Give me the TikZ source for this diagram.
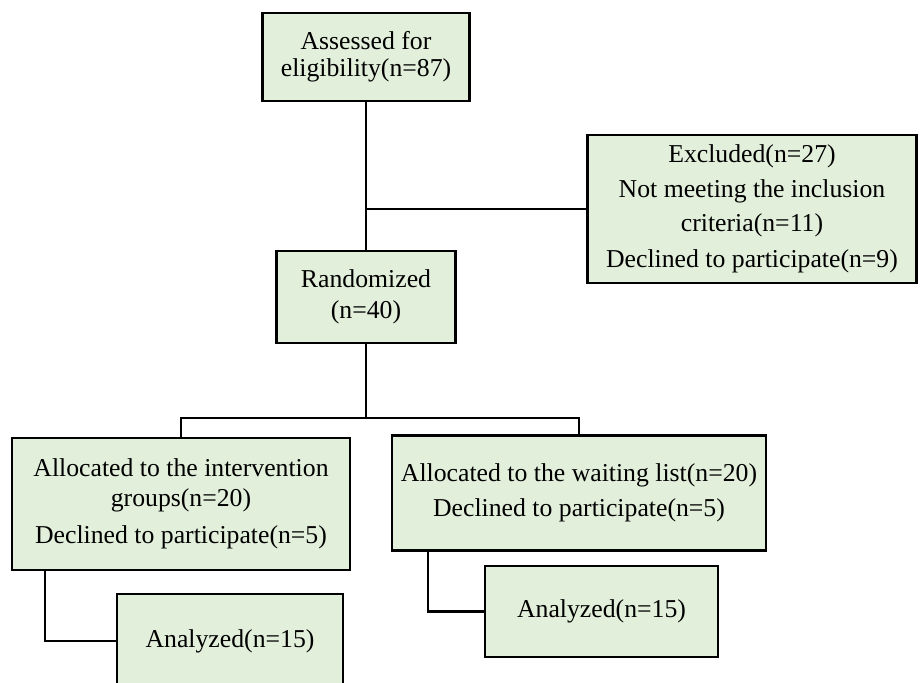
\documentclass[tikz,border=0pt]{standalone}
\usepackage{fontspec}
\setmainfont{Liberation Serif}
\definecolor{boxgreen}{HTML}{E2EFDA}
\begin{document}
\begin{tikzpicture}[x=0.75pt,y=-0.75pt,
  box/.style={draw=black, fill=boxgreen, line width=1.6pt, align=center, inner sep=0pt,
    font=\fontsize{19.3}{20.25}\selectfont},
  conn/.style={draw=black, line width=1.6pt}]
\useasboundingbox (0,0) rectangle (920,682);
\clip (0,0) rectangle (920,682);
\node[box, minimum width={207*0.75pt}, minimum height={88*0.75pt}] (assess) at (366,57) {Assessed for\\eligibility(n=87)};
\node[box, minimum width={329*0.75pt}, minimum height={148*0.75pt}] (excl) at (752,209) {Excluded(n=27)\\[6pt]Not meeting the inclusion\\[5.2pt]criteria(n=11)\\[6.5pt]Declined to participate(n=9)};
\node[box, minimum width={179*0.75pt}, minimum height={92*0.75pt}] (rand) at (366,297) {Randomized\\[3pt](n=40)};
\node[box, minimum width={338*0.75pt}, minimum height={132*0.75pt}] (alloc1) at (181,504) {Allocated to the intervention\\[2.2pt]groups(n=20)\\[7.5pt]Declined to participate(n=5)};
\node[box, minimum width={374*0.75pt}, minimum height={115*0.75pt}] (alloc2) at (579,493) {Allocated to the waiting list(n=20)\\[6pt]Declined to participate(n=5)};
\node[box, minimum width={226*0.75pt}, minimum height={94*0.75pt}] (an1) at (230,641) {Analyzed(n=15)};
\node[box, minimum width={233*0.75pt}, minimum height={91*0.75pt}] (an2) at (601.5,611.5) {Analyzed(n=15)};
\coordinate (split) at (366,418);
\draw[conn] (assess.south) -- (rand.north);
\draw[conn] (rand.north |- excl.west) -- (excl.west);
\draw[conn] (rand.south) -- (split);
\draw[conn] (split) -| (alloc1.north);
\draw[conn] (split) -| (alloc2.north);
\draw[conn] ([xshift={34*0.75pt}]alloc1.south west) |- (an1.west);
\draw[conn] ([xshift={37*0.75pt}]alloc2.south west) |- (an2.west);
\end{tikzpicture}
\end{document}
